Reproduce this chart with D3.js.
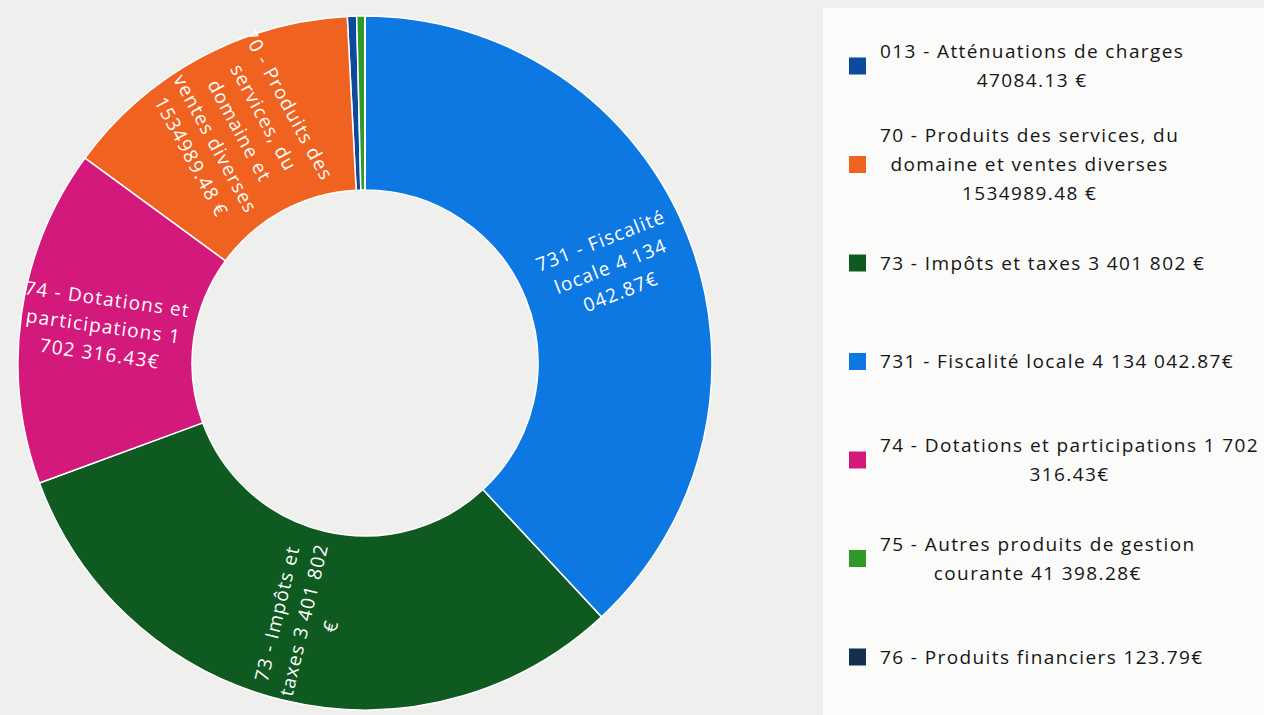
<!DOCTYPE html>
<html><head><meta charset="utf-8">
<script src="https://cdn.jsdelivr.net/npm/d3@7"></script>
<style>
html,body{margin:0;padding:0;background:#efefed;}
svg{display:block;}
</style></head>
<body>
<svg id="chart" width="1264" height="715"></svg>
<script>
const categories = ["013 - Atténuations de charges", "70 - Produits des services, du domaine et ventes diverses", "73 - Impôts et taxes", "731 - Fiscalité locale", "74 - Dotations et participations", "75 - Autres produits de gestion courante", "76 - Produits financiers"];
const values = [47084.13, 1534989.48, 3401802, 4134042.87, 1702316.43, 41398.28, 123.79];
const colors = ["#0d4a9c", "#f0621f", "#0f5a20", "#0d78e2", "#d3197b", "#2f9a2a", "#13304f"];
const legendLines = [
  ["013 - Atténuations de charges", "47084.13 €"],
  ["70 - Produits des services, du", "domaine et ventes diverses", "1534989.48 €"],
  ["73 - Impôts et taxes 3 401 802 €"],
  ["731 - Fiscalité locale 4 134 042.87€"],
  ["74 - Dotations et participations 1 702", "316.43€"],
  ["75 - Autres produits de gestion", "courante 41 398.28€"],
  ["76 - Produits financiers 123.79€"]
];
const sliceLabelLines = [
  [],
  ["70 - Produits des", "services, du", "domaine et", "ventes diverses", "1534989.48 €"],
  ["73 - Impôts et", "taxes 3 401 802", "€"],
  ["731 - Fiscalité", "locale 4 134", "042.87€"],
  ["74 - Dotations et", "participations 1", "702 316.43€"],
  [],
  []
];

const svg = d3.select("#chart");
// legend panel
svg.append("rect").attr("x", 823).attr("y", 8).attr("width", 441).attr("height", 707).attr("fill", "#fbfbfa");

const cx = 365, cy = 363, rOuter = 347, rInner = 173, rLabel = 264;
const data = categories.map((c, i) => ({name: c, value: values[i], color: colors[i], label: sliceLabelLines[i]}));
const pie = d3.pie().value(d => d.value).sort((a, b) => b.value - a.value);
const arcs = pie(data);
const arc = d3.arc().innerRadius(rInner).outerRadius(rOuter);
const g = svg.append("g").attr("transform", `translate(${cx},${cy})`);
g.selectAll("path").data(arcs).join("path")
  .attr("d", arc).attr("fill", d => d.data.color)
  .attr("stroke", "#ffffff").attr("stroke-width", 1.5);

const labelArc = d3.arc().innerRadius(rLabel).outerRadius(rLabel);
const lh = 27.5;
const lg = g.selectAll("g.lab").data(arcs.filter(d => d.data.label.length)).join("g")
  .attr("class", "lab")
  .attr("transform", d => {
    const [x, y] = labelArc.centroid(d);
    let rot = ((d.startAngle + d.endAngle) / 2) * 180 / Math.PI - 90;
    if (rot > 90) rot -= 180;
    return `translate(${x},${y}) rotate(${rot})`;
  });
lg.each(function(d) {
  const n = d.data.label.length;
  d3.select(this).selectAll("text").data(d.data.label).join("text")
    .attr("x", 0).attr("y", (t, i) => (i - (n - 1) / 2) * lh)
    .attr("dy", "0.35em")
    .attr("text-anchor", "middle")
    .attr("fill", "#ffffff")
    .attr("font-family", "'Open Sans', sans-serif")
    .attr("font-size", 19)
    .attr("letter-spacing", 1.2)
    .text(t => t);
});

// legend
const legX = 849, textX = 880, legTop = 66, legStep = 98.5, legLh = 29;
const leg = svg.append("g");
data.forEach((d, i) => {
  const cyL = legTop + i * legStep;
  const lines = legendLines[i];
  const n = lines.length;
  const gi = leg.append("g");
  gi.append("rect").attr("x", legX).attr("y", cyL - 8.5).attr("width", 17).attr("height", 17).attr("fill", d.color);
  const texts = gi.selectAll("text").data(lines).join("text")
    .attr("y", (t, j) => cyL + (j - (n - 1) / 2) * legLh)
    .attr("dy", "0.35em")
    .attr("fill", "#151515")
    .attr("font-family", "'Open Sans', sans-serif")
    .attr("font-size", 19)
    .attr("font-weight", 500)
    .attr("letter-spacing", 1.4)
    .text(t => t);
  const widths = [];
  texts.each(function() { widths.push(this.getComputedTextLength()); });
  const maxW = d3.max(widths);
  texts.attr("x", (t, j) => textX + (maxW - widths[j]) / 2);
});
</script>
</body></html>
